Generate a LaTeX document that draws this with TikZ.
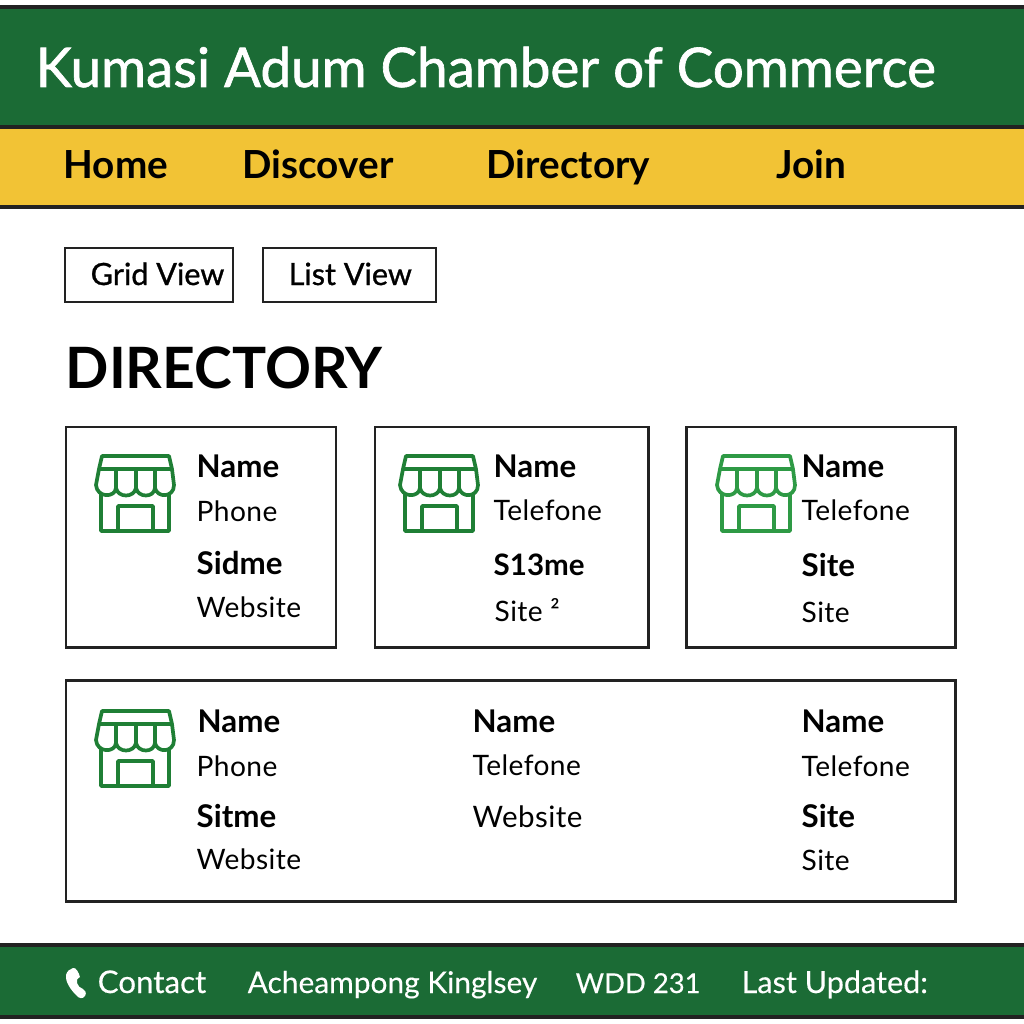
\documentclass[tikz,border=0pt]{standalone}
\usepackage{fontspec}
\setmainfont{Lato}
\usepackage{xcolor}
\usetikzlibrary{positioning}
\definecolor{bargreen}{HTML}{1B6B35}
\definecolor{baryellow}{HTML}{F2C335}
\definecolor{icongreen}{HTML}{1F7F35}
\definecolor{iconbright}{HTML}{2E9A45}
\definecolor{inkline}{HTML}{222222}
\tikzset{
  bartitle/.style={anchor=base west, inner sep=0pt, xshift=-0.01cm, text=white, font=\fontsize{15.55}{20}\selectfont\addfontfeature{FakeBold=1.2}},
  navitem/.style={anchor=base west, inner sep=0pt, xshift=-0.01cm, text=black, font=\fontsize{11}{13}\selectfont\bfseries},
  footitem/.style={anchor=base west, inner sep=0pt, xshift=-0.01cm, text=white, font=\fontsize{8.5}{10}\selectfont\addfontfeature{FakeBold=0.3}},
  viewbtn/.style={anchor=base west, inner sep=0pt, xshift=-0.01cm, text=black, font=\fontsize{8.7}{10}\selectfont\addfontfeature{FakeBold=1}},
  pagehead/.style={anchor=base west, inner sep=0pt, xshift=-0.01cm, text=black, font=\fontsize{16.2}{19}\selectfont\bfseries},
  namelabel/.style={anchor=base west, inner sep=0pt, xshift=-0.01cm, text=black, font=\fontsize{8.9}{10}\selectfont\bfseries},
  infolabel/.style={anchor=base west, inner sep=0pt, xshift=-0.01cm, text=black, font=\fontsize{8}{10}\selectfont\addfontfeature{LetterSpace=1.5}},
  boxline/.style={draw=inkline, line width=0.85pt},
  barline/.style={draw=inkline, line width=0.9pt},
  shopicon/.pic={
    \draw[pic actions, line width=1.05pt, line join=round]
      (3,14) -- (6,1) -- (73,1) -- (76,14)
      (3,14) -- (76,14)
      (3,14) -- (0,30) .. controls (1,43) and (19,43) .. (20,33)
        .. controls (22,43) and (38,43) .. (40,33)
        .. controls (42,43) and (58,43) .. (59,33)
        .. controls (61,43) and (78,43) .. (78,30) -- (76,14)
      (20,14) -- (20,33) (40,14) -- (40,33) (59,14) -- (59,33)
      (5,38) -- (5,76) -- (73,76) -- (73,38)
      (22,76) -- (22,51) -- (57,51) -- (57,76);
  },
}
\begin{document}
\begin{tikzpicture}[x=0.01cm, y=-0.01cm]
  \useasboundingbox[fill=white] (0,0) rectangle (1024,1024);
  % Bars
  \fill[bargreen] (0,7) rectangle (1024,127);
  \fill[baryellow] (0,127) rectangle (1024,207);
  \fill[bargreen] (0,945) rectangle (1024,1017);
  \foreach \ypos in {7,127,207,945,1017} {
    \draw[barline] (0,\ypos) -- (1024,\ypos);
  }
  \node[bartitle] (title) at (36,87) {Kumasi Adum Chamber of Commerce};

  % Nav
  \node[navitem] (home) at (64,178) {Home};
  \node[navitem] (discover) at (243,178) {Discover};
  \node[navitem] (directory) at (487,178) {Directory};
  \node[navitem] (join) at (777,178) {Join};

  % View buttons
  \draw[boxline] (65,248) rectangle (233,302);
  \draw[boxline] (263,248) rectangle (436,302);
  \node[viewbtn] (gridview) at (91,285) {Grid View};
  \node[viewbtn] (listview) at (289,285) {List View};
  \node[pagehead] (dirhead) at (66,388) {DIRECTORY};

  % Cards
  \draw[boxline] (66,427) rectangle (336,647);
  \draw[boxline] (375,427) rectangle (648,647);
  \draw[boxline] (686,427) rectangle (955,647);
  \draw[boxline] (66,680) rectangle (955,901);

  \pic[icongreen] at (96,455) {shopicon};
  \pic[icongreen] at (400,455) {shopicon};
  \pic[iconbright] at (717,455) {shopicon};
  \pic[icongreen] at (96,710) {shopicon};

  % Card one
  \node[namelabel] (nameA) at (197,477) {Name};
  \node[infolabel] (phoneA) at (197,521) {Phone};
  \node[namelabel] (siteA) at (197,574) {Sidme};
  \node[infolabel] (webA) at (197,617) {Website};

  % Card two
  \node[namelabel] (nameB) at (494,477) {Name};
  \node[infolabel] (phoneB) at (494,520) {Telefone};
  \node[namelabel, font=\fontsize{8.4}{10}\selectfont\bfseries] (siteB) at (494,575) {S13me};
  \node[infolabel] (webB) at (495,621) {Site ²};

  % Card three
  \node[namelabel] (nameC) at (802,477) {Name};
  \node[infolabel] (phoneC) at (802,520) {Telefone};
  \node[namelabel] (siteC) at (802,576) {Site};
  \node[infolabel] (webC) at (802,622) {Site};

  % Wide card
  \node[namelabel] (nameD) at (198,732) {Name};
  \node[infolabel] (phoneD) at (197,776) {Phone};
  \node[namelabel] (siteD) at (197,827) {Sitme};
  \node[infolabel] (webD) at (197,869) {Website};
  \node[namelabel] (nameE) at (473,732) {Name};
  \node[infolabel] (phoneE) at (473,775) {Telefone};
  \node[infolabel, font=\fontsize{8.4}{10}\selectfont\addfontfeature{LetterSpace=1.5}] (webE) at (473,827) {Website};
  \node[namelabel] (nameF) at (802,732) {Name};
  \node[infolabel] (phoneF) at (802,776) {Telefone};
  \node[namelabel] (siteF) at (802,827) {Site};
  \node[infolabel] (webF) at (802,870) {Site};

  % Footer
  \fill[white] (73,968) .. controls (76,967) and (79,973) .. (80,977)
    .. controls (77,979) and (76,980) .. (77,983)
    .. controls (78,986) and (80,988) .. (83,989)
    .. controls (85,990) and (87,993) .. (85,996)
    .. controls (83,999) and (79,999) .. (76,995)
    .. controls (70,989) and (65,981) .. (66,975)
    .. controls (67,971) and (70,969) .. (73,968) -- cycle;
  \node[footitem, font=\fontsize{8.9}{10}\selectfont\addfontfeature{FakeBold=0.3}] (contact) at (98,993) {Contact};
  \node[footitem] (owner) at (248,993) {Acheampong Kinglsey};
  \node[footitem, font=\fontsize{7.8}{10}\selectfont\addfontfeature{FakeBold=0.3}] (course) at (576,993) {WDD 231};
  \node[footitem, font=\fontsize{8.7}{10}\selectfont\addfontfeature{FakeBold=0.3}] (updated) at (742,993) {Last Updated:};
\end{tikzpicture}
\end{document}
